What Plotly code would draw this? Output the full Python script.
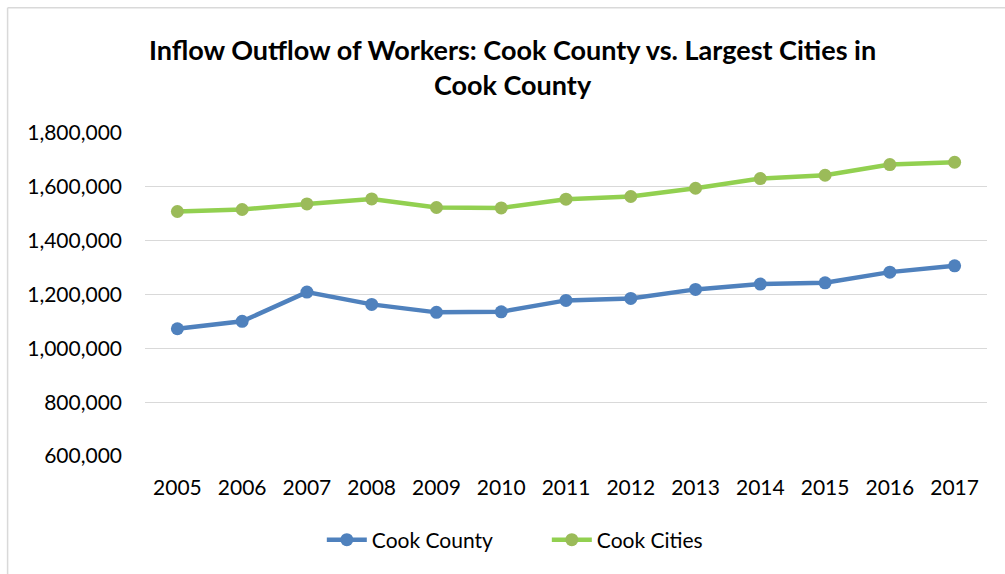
import plotly.graph_objects as go

years = ["2005", "2006", "2007", "2008", "2009", "2010", "2011",
         "2012", "2013", "2014", "2015", "2016", "2017"]
cook_county = [1072700, 1100200, 1208900, 1163300, 1133600, 1135800, 1178100,
               1185500, 1219000, 1238600, 1243400, 1283100, 1306500]
cook_cities = [1508300, 1515800, 1536500, 1555100, 1523200, 1521700, 1554000,
               1564000, 1594800, 1630800, 1643000, 1682700, 1691300]
y_ticks = [600000, 800000, 1000000, 1200000, 1400000, 1600000, 1800000]

FONT = "Lato"

fig = go.Figure()
fig.add_trace(go.Scatter(
    x=years, y=cook_county, name="Cook County", mode="lines+markers",
    line=dict(color="#4F81BD", width=4.5),
    marker=dict(color="#4F81BD", size=13),
))
fig.add_trace(go.Scatter(
    x=years, y=cook_cities, name="Cook Cities", mode="lines+markers",
    line=dict(color="#92D050", width=4.5),
    marker=dict(color="#9BBB59", size=13),
))

# chart frame (top and left edges visible)
fig.add_shape(type="line", xref="paper", yref="paper",
              x0=-0.1632, x1=1.03, y0=1.388, y1=1.388,
              line=dict(color="#D9D9D9", width=1.5))
fig.add_shape(type="line", xref="paper", yref="paper",
              x0=-0.1632, x1=-0.1632, y0=1.388, y1=-0.4,
              line=dict(color="#D9D9D9", width=1.5))

fig.update_layout(
    width=1005, height=574,
    margin=dict(l=145, r=18, t=133, b=118),
    plot_bgcolor="white", paper_bgcolor="white",
    font=dict(family=FONT, color="#000000", size=21),
    title=dict(
        text="<b>Inflow Outflow of Workers: Cook County vs. Largest Cities in<br>Cook County</b>",
        x=0.51, xanchor="center", y=0.895, yanchor="top",
        font=dict(family=FONT, size=27, color="#000000"),
    ),
    xaxis=dict(
        type="category", range=[-0.5, 12.5], showgrid=False, showline=False,
        ticks="", ticklabelstandoff=17, tickfont=dict(size=21),
    ),
    yaxis=dict(
        range=[600000, 1800000], tickvals=y_ticks, tickformat=",d",
        showgrid=True, gridcolor="#D9D9D9", gridwidth=1.2, zeroline=False,
        showline=False, ticks="", ticklabelstandoff=22, tickfont=dict(size=21),
    ),
    legend=dict(
        orientation="h", x=0.21, xanchor="left", y=-0.26, yanchor="middle",
        font=dict(size=21), itemwidth=40,
        entrywidth=170, entrywidthmode="pixels",
    ),
    showlegend=True,
)

fig.write_html("out.html")
